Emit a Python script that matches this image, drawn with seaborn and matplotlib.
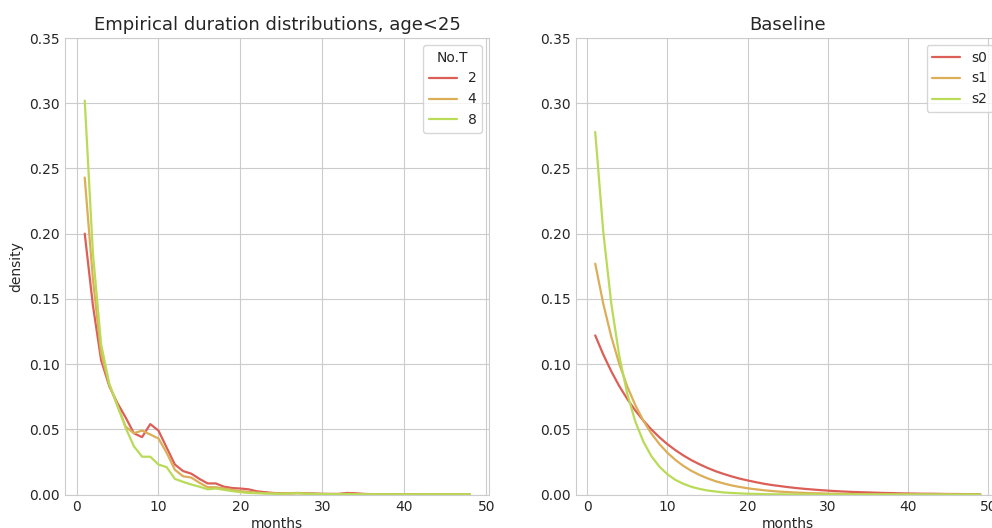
import pandas as pd
import seaborn as sb
import matplotlib
matplotlib.use("Agg")
import matplotlib.pyplot as plt

# empirical densities per number of treatments (age<25), months 1..48
aMonthsEmp = list(range(1, 49))
aDens2 = [0.200, 0.145, 0.103, 0.083, 0.070, 0.059, 0.047, 0.044, 0.054, 0.049,
          0.036, 0.023, 0.018, 0.016, 0.012, 0.0085, 0.0085, 0.006, 0.005, 0.0046,
          0.004, 0.0025, 0.0018, 0.0012, 0.001, 0.001, 0.0012, 0.001, 0.0008, 0.0005,
          0.0005, 0.0005, 0.0012, 0.001, 0.0005, 0.0003, 0.0002, 0.0002, 0.0002, 0.0002,
          0.0002, 0.0001, 0.0001, 0.0001, 0.0001, 0.0001, 0.0001, 0.0001]
aDens4 = [0.243, 0.165, 0.108, 0.084, 0.068, 0.052, 0.047, 0.049, 0.046, 0.043,
          0.032, 0.019, 0.014, 0.013, 0.009, 0.0056, 0.0056, 0.0046, 0.0036, 0.0026,
          0.002, 0.0015, 0.001, 0.001, 0.0008, 0.0008, 0.001, 0.0008, 0.0005, 0.0005,
          0.0003, 0.0003, 0.0005, 0.0004, 0.0003, 0.0002, 0.0002, 0.0002, 0.0001, 0.0001,
          0.0001, 0.0001, 0.0001, 0.0001, 0.0001, 0.0001, 0.0001, 0.0001]
aDens8 = [0.302, 0.185, 0.115, 0.085, 0.068, 0.051, 0.037, 0.029, 0.029, 0.023,
          0.021, 0.012, 0.0097, 0.0077, 0.006, 0.004, 0.0046, 0.0036, 0.0026, 0.0018,
          0.0012, 0.001, 0.0008, 0.0006, 0.0006, 0.0008, 0.001, 0.0006, 0.0004, 0.0003,
          0.0003, 0.0002, 0.0003, 0.0002, 0.0002, 0.0001, 0.0001, 0.0001, 0.0001, 0.0001,
          0.0001, 0.0001, 0.0001, 0.0001, 0.0001, 0.0001, 0.0001, 0.0001]

# baseline densities, months 1..49
aMonthsBase = list(range(1, 50))
aS0 = [0.1220, 0.1074, 0.0945, 0.0831, 0.0732, 0.0644, 0.0567, 0.0499, 0.0439, 0.0386,
       0.0340, 0.0299, 0.0263, 0.0232, 0.0204, 0.0179, 0.0158, 0.0139, 0.0122, 0.0108,
       0.0095, 0.0083, 0.0073, 0.0065, 0.0057, 0.0050, 0.0044, 0.0039, 0.0034, 0.0030,
       0.0026, 0.0023, 0.0020, 0.0018, 0.0016, 0.0014, 0.0012, 0.0011, 0.0009, 0.0008,
       0.0007, 0.0006, 0.0006, 0.0005, 0.0004, 0.0004, 0.0003, 0.0003, 0.0003]
aS1 = [0.1770, 0.1464, 0.1211, 0.1001, 0.0828, 0.0685, 0.0566, 0.0468, 0.0387, 0.0320,
       0.0265, 0.0219, 0.0181, 0.0150, 0.0124, 0.0102, 0.0085, 0.0070, 0.0058, 0.0048,
       0.0040, 0.0033, 0.0027, 0.0022, 0.0019, 0.0015, 0.0013, 0.0010, 0.0009, 0.0007,
       0.0006, 0.0005, 0.0004, 0.0003, 0.0003, 0.0002, 0.0002, 0.0002, 0.0001, 0.0001,
       0.0001, 0.0001, 0.0001, 0.0001, 0.0001, 0.0000, 0.0000, 0.0000, 0.0000]
aS2 = [0.2780, 0.2017, 0.1464, 0.1062, 0.0771, 0.0559, 0.0406, 0.0294, 0.0214, 0.0155,
       0.0112, 0.0082, 0.0059, 0.0043, 0.0031, 0.0023, 0.0016, 0.0012, 0.0009, 0.0006,
       0.0005, 0.0003, 0.0002, 0.0002, 0.0001, 0.0001, 0.0001, 0.0001, 0.0000, 0.0000,
       0.0000, 0.0000, 0.0000, 0.0000, 0.0000, 0.0000, 0.0000, 0.0000, 0.0000, 0.0000,
       0.0000, 0.0000, 0.0000, 0.0000, 0.0000, 0.0000, 0.0000, 0.0000, 0.0000]

aEmpLabels = ["2", "4", "8"]
aBaseLabels = ["s0", "s1", "s2"]

pdEmp = pd.concat([pd.DataFrame({"months": aMonthsEmp, "density": d, "No.T": l})
                   for l, d in zip(aEmpLabels, [aDens2, aDens4, aDens8])])
pdBase = pd.concat([pd.DataFrame({"months": aMonthsBase, "density": d, "series": l})
                    for l, d in zip(aBaseLabels, [aS0, aS1, aS2])])

sb.set_style("whitegrid")
plt.rcParams["font.family"] = ["DejaVu Sans"]
aColors = sb.color_palette("hls", 10)[:3]

fig = plt.figure(figsize=(9.92, 5.28), dpi=100)
axLeft = fig.add_axes([0.066, 0.0634, 0.427, 0.8646])
axRight = fig.add_axes([0.5806, 0.0634, 0.427, 0.8646])

sb.lineplot(data=pdEmp, x="months", y="density", hue="No.T", palette=aColors,
            ax=axLeft, linewidth=1.6)
axLeft.set_title("Empirical duration distributions, age<25", fontsize=13)
axLeft.legend(title="No.T", loc="upper right", fontsize=10, title_fontsize=10)

sb.lineplot(data=pdBase, x="months", y="density", hue="series", palette=aColors,
            ax=axRight, linewidth=1.6)
axRight.set_title("Baseline", fontsize=13)
axRight.legend(loc="upper right", fontsize=10)
axRight.set_ylabel("")

for ax in (axLeft, axRight):
    ax.set_ylim(0, 0.35)
    ax.set_yticks([0, 0.05, 0.10, 0.15, 0.20, 0.25, 0.30, 0.35])
    ax.set_yticklabels(["0.00", "0.05", "0.10", "0.15", "0.20", "0.25", "0.30", "0.35"])
    ax.set_xticks([0, 10, 20, 30, 40, 50])
    ax.tick_params(labelsize=10, colors=".15", length=0, pad=4)
    ax.set_xlabel("months", fontsize=10, labelpad=2)
axLeft.set_ylabel("density", fontsize=10, labelpad=4)

fig.savefig("out.png", dpi=100)
